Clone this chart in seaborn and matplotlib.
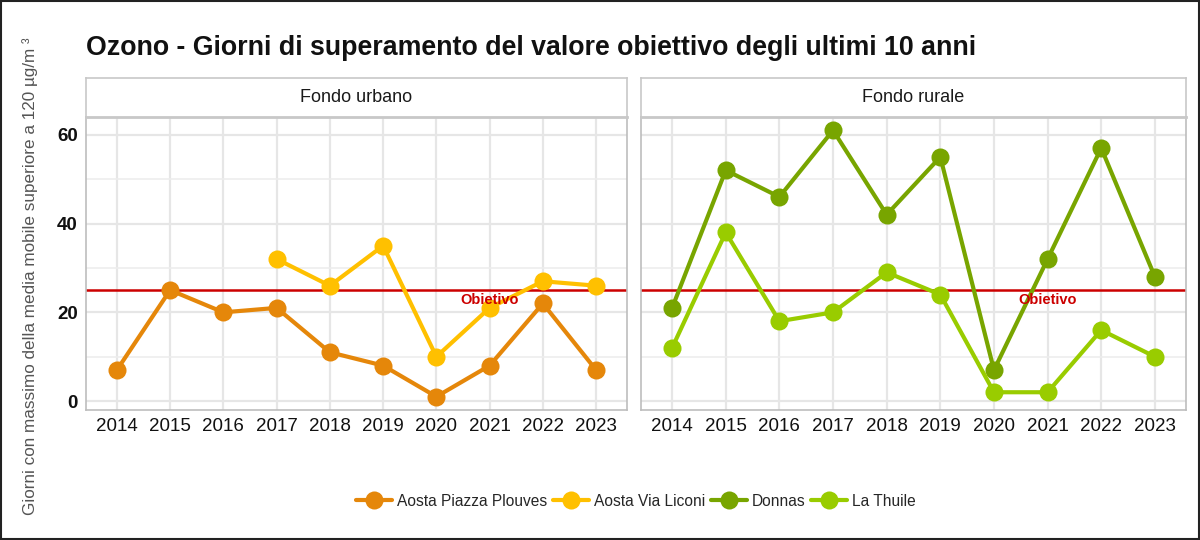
import matplotlib
matplotlib.use("Agg")
import matplotlib.pyplot as plt
import seaborn as sns
import pandas as pd
from matplotlib.lines import Line2D
from matplotlib.patches import Rectangle
from matplotlib.ticker import MultipleLocator

sns.set_theme(style="white")
plt.rcParams['font.family'] = ['Liberation Sans', 'DejaVu Sans']

years = [2014, 2015, 2016, 2017, 2018, 2019, 2020, 2021, 2022, 2023]
piazza_plouves = [7, 25, 20, 21, 11, 8, 1, 8, 22, 7]
via_liconi_years = [2017, 2018, 2019, 2020, 2021, 2022, 2023]
via_liconi = [32, 26, 35, 10, 21, 27, 26]
donnas = [21, 52, 46, 61, 42, 55, 7, 32, 57, 28]
la_thuile = [12, 38, 18, 20, 29, 24, 2, 2, 16, 10]
objective = 25

stations = ["Aosta Piazza Plouves", "Aosta Via Liconi", "Donnas", "La Thuile"]
colors = {"Aosta Piazza Plouves": "#E5870A", "Aosta Via Liconi": "#FFC000",
          "Donnas": "#78A500", "La Thuile": "#99CC00"}

urban = pd.concat([
    pd.DataFrame({"anno": years, "giorni": piazza_plouves, "stazione": "Aosta Piazza Plouves"}),
    pd.DataFrame({"anno": via_liconi_years, "giorni": via_liconi, "stazione": "Aosta Via Liconi"}),
])
rural = pd.concat([
    pd.DataFrame({"anno": years, "giorni": donnas, "stazione": "Donnas"}),
    pd.DataFrame({"anno": years, "giorni": la_thuile, "stazione": "La Thuile"}),
])

fig = plt.figure(figsize=(12, 5.4), dpi=100)
fig.patch.set_facecolor("white")

W, H = 1200, 540
def frac(x0, y0, x1, y1):
    return [x0 / W, 1 - y1 / H, (x1 - x0) / W, (y1 - y0) / H]

panels = [
    (frac(86, 117, 627, 410), frac(86, 78, 627, 117), urban, "Fondo urbano",
     ["Aosta Piazza Plouves", "Aosta Via Liconi"]),
    (frac(641, 117, 1186, 410), frac(641, 78, 1186, 117), rural, "Fondo rurale",
     ["Donnas", "La Thuile"]),
]

for i, (rect, srect, df, strip, order) in enumerate(panels):
    ax = fig.add_axes(rect)
    ax.set_facecolor("white")
    ax.axhline(objective, color="#CC0000", lw=1.8, zorder=2)
    sns.lineplot(data=df, x="anno", y="giorni", hue="stazione", hue_order=order,
                 palette=colors, marker="o", markersize=13, markeredgewidth=0,
                 linewidth=3, ax=ax, legend=False, zorder=3)
    ax.text(2021, 22.8, "Obietivo", color="#CC0000", fontsize=10.5, fontweight="bold",
            ha="center", va="center", zorder=4)
    ax.set_xlim(2013.42, 2023.58)
    ax.set_ylim(-2, 64)
    ax.set_xticks(years)
    ax.set_xticklabels([str(y) for y in years], fontsize=13.5, color="#111111")
    ax.yaxis.set_major_locator(MultipleLocator(20))
    ax.yaxis.set_minor_locator(MultipleLocator(10))
    if i == 0:
        ax.tick_params(axis="y", labelsize=13.5, labelcolor="#111111")
        for lab in ax.get_yticklabels():
            lab.set_fontweight("bold")
    else:
        ax.tick_params(axis="y", labelleft=False)
    ax.tick_params(axis="both", which="both", length=0, pad=6)
    ax.grid(True, which="major", color="#E6E6E6", lw=1.6, zorder=0)
    ax.grid(True, which="minor", axis="y", color="#EDEDED", lw=1.2, zorder=0)
    ax.set_axisbelow(True)
    ax.set_xlabel("")
    ax.set_ylabel("")
    for sp in ax.spines.values():
        sp.set_color("#BDBDBD")
        sp.set_linewidth(1.2)
    sax = fig.add_axes(srect)
    sax.set_facecolor("white")
    sax.set_xticks([]); sax.set_yticks([])
    for sp in sax.spines.values():
        sp.set_color("#C8C8C8")
        sp.set_linewidth(1.2)
    sax.spines["bottom"].set_linewidth(2)
    sax.text(0.5, 0.5, strip, ha="center", va="center", fontsize=13, color="#1A1A1A",
             transform=sax.transAxes)

fig.text(86 / W, 1 - 48 / H, "Ozono - Giorni di superamento del valore obiettivo degli ultimi 10 anni",
         fontsize=19.3, fontweight="bold", ha="left", va="center", color="#111111")

fig.text(30 / W, 1 - 276 / H, "Giorni con massimo della media mobile superiore a 120 µg/m ³",
         rotation=90, fontsize=12.3, color="#555555", ha="center", va="center")

handles = [Line2D([0], [0], color=colors[s], lw=3, marker="o", markersize=13,
                  markeredgewidth=0) for s in stations]
fig.legend(handles, stations, loc="center", bbox_to_anchor=(0.53, 1 - 501 / H), ncol=4,
           frameon=False, fontsize=11.2, handlelength=2.3, handletextpad=0.3, columnspacing=0.4)

fig.patches.append(Rectangle((0.001, 0.001), 0.998, 0.997, transform=fig.transFigure,
                             fill=False, edgecolor="#222222", lw=1.5))

fig.savefig("out.png", dpi=100)
